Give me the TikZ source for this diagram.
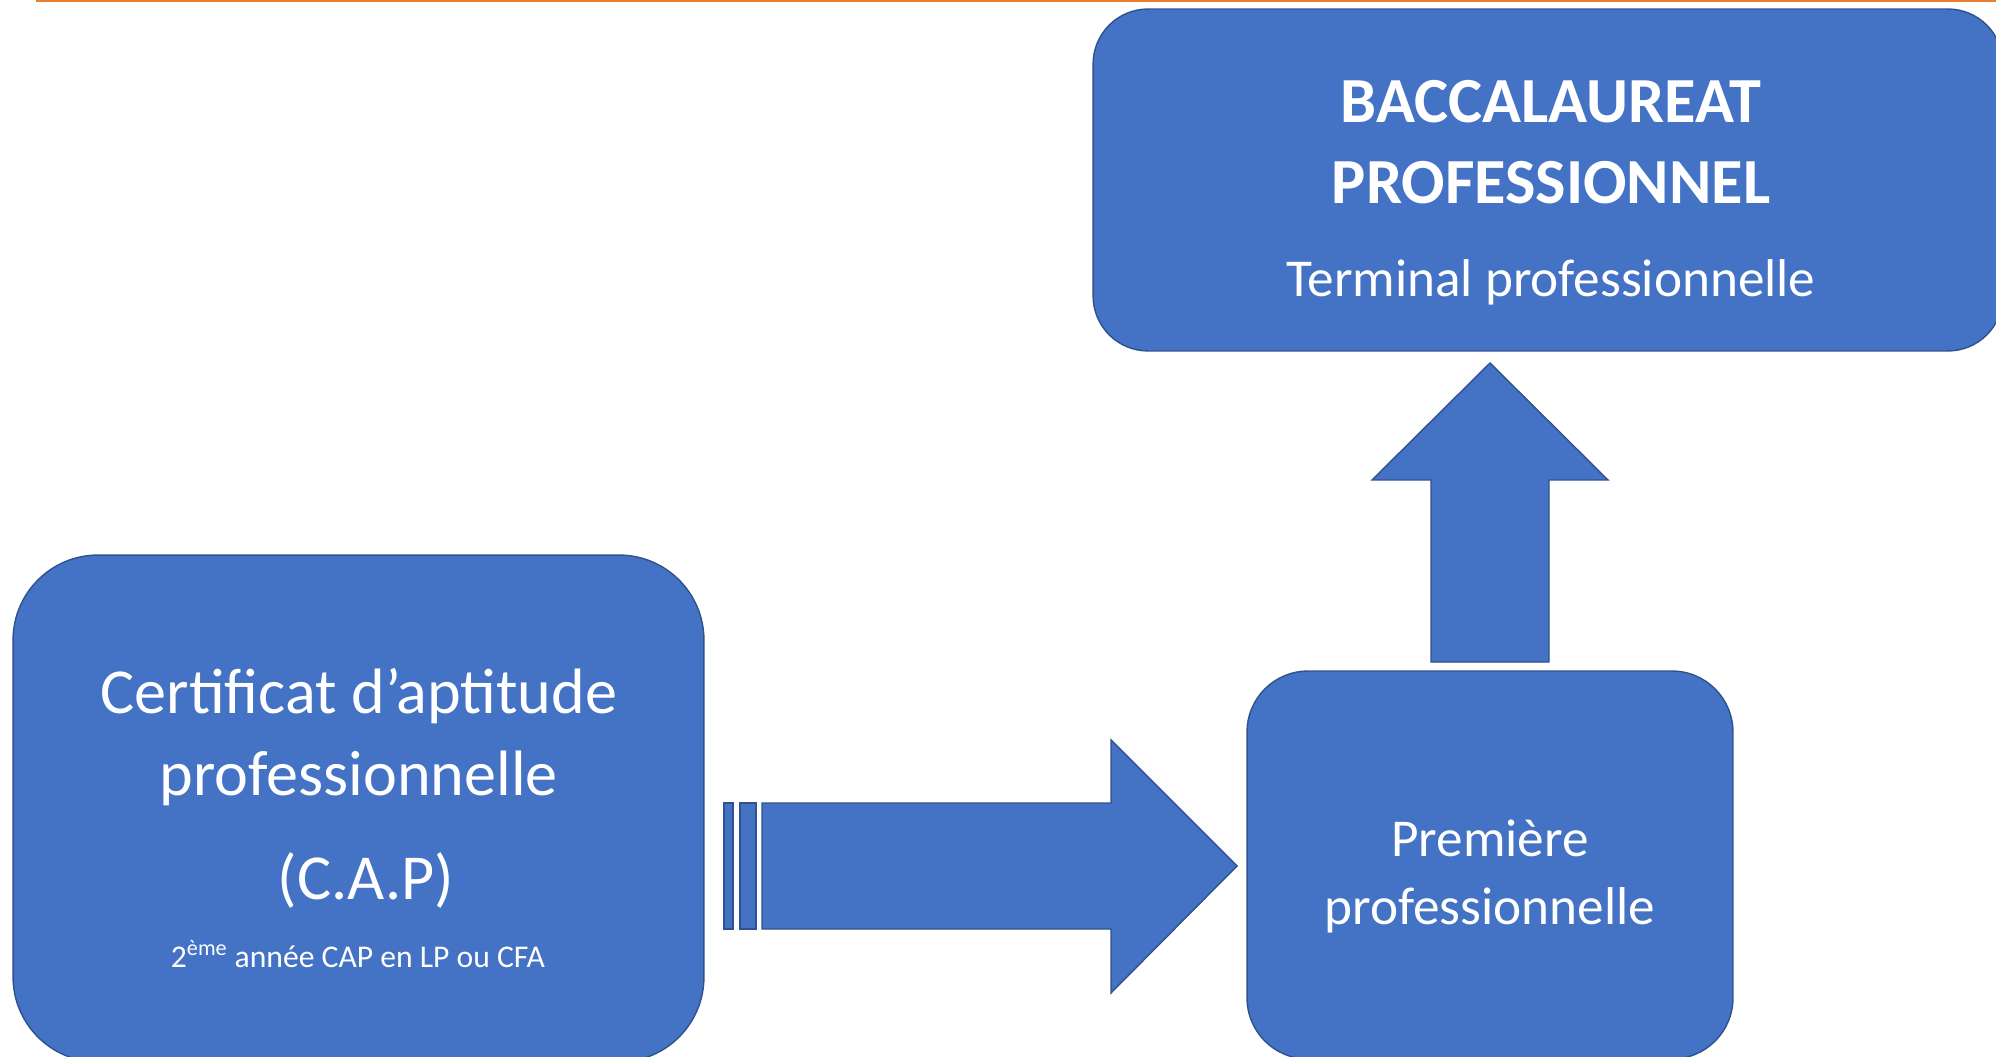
\documentclass[tikz,border=0pt]{standalone}
\usepackage{fontspec}
\setmainfont{Carlito}
\definecolor{boxblue}{HTML}{4472C4}
\definecolor{boxedge}{HTML}{2F528F}
\definecolor{barorange}{HTML}{ED7D31}
\tikzset{
  block/.style={draw=boxedge, fill=boxblue, line width=0.8pt, inner sep=0pt},
  txt/.style={text=white, anchor=base, inner sep=0pt},
  big/.style={txt, font=\fontsize{36.5}{44}\selectfont},
  mid/.style={txt, font=\fontsize{30.3}{36}\selectfont},
}
\begin{document}
\begin{tikzpicture}[x=0.02cm, y=-0.02cm]
\useasboundingbox (0,0) rectangle (1996,1057);
\draw[barorange, line width=0.04cm] (36,1)--(1996,1);
% boxes
\node[block, rounded corners=1.1cm, minimum width=18.2cm, minimum height=6.84cm] (bac) at (1548,180) {};
\node[block, rounded corners=1.7cm, minimum width=13.82cm, minimum height=10.14cm] (cap) at (358.5,808.5) {};
\node[block, rounded corners=1.22cm, minimum width=9.72cm, minimum height=7.76cm] (prem) at (1490,865) {};
% texts
\node[big, font=\fontsize{36.6}{44}\selectfont\bfseries] (bac1) at (1551,123) {BACCALAUREAT};
\node[big, font=\fontsize{36.6}{44}\selectfont\bfseries] (bac2) at (1551,204) {PROFESSIONNEL};
\node[mid] (bac3) at (1551,297) {Terminal professionnelle};
\node[big] (cap1) at (359,713) {Certificat d’aptitude};
\node[big] (cap2) at (359,795) {professionnelle};
\node[big] (cap3) at (366,899) {(C.A.P)};
\node[txt, font=\fontsize{18}{22}\selectfont] (cap4) at (358,967) {2\textsuperscript{ème} année CAP en LP ou CFA};
\node[mid] (prem1) at (1490,856) {Première};
\node[mid] (prem2) at (1490,924) {professionnelle};
% arrows
\draw[block] (724,803) rectangle (733,929);
\draw[block] (740,803) rectangle (756,929);
\draw[block] (762,803)--(1111,803)--(1111,740)--(1237,866)--(1111,993)--(1111,929)--(762,929)--cycle;
\draw[block] (1431,662)--(1431,480)--(1372,480)--(1490,363)--(1608,480)--(1549,480)--(1549,662)--cycle;
\end{tikzpicture}
\end{document}
